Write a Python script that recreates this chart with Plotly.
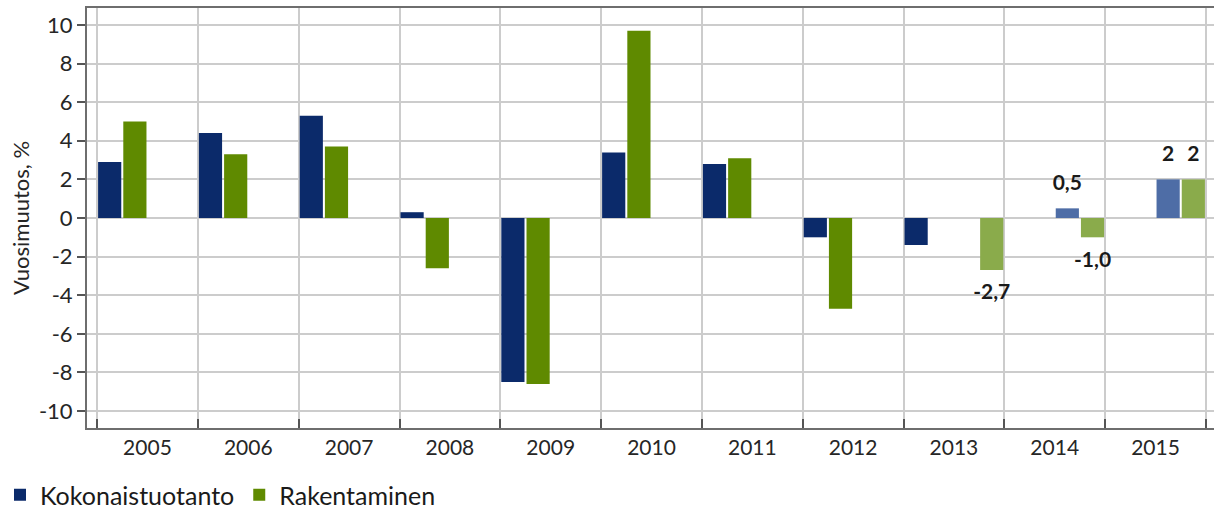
import plotly.graph_objects as go

years = ["2005", "2006", "2007", "2008", "2009", "2010", "2011", "2012", "2013", "2014", "2015"]

# Actual values
kok_actual = [2.9, 4.4, 5.3, 0.3, -8.5, 3.4, 2.8, -1.0, -1.4, None, None]
rak_actual = [5.0, 3.3, 3.7, -2.6, -8.6, 9.7, 3.1, -4.7, None, None, None]

# Forecast values
kok_forecast = [None, None, None, None, None, None, None, None, None, 0.5, 2.0]
rak_forecast = [None, None, None, None, None, None, None, None, -2.7, -1.0, 2.0]

# Data labels shown on the forecast bars
kok_forecast_labels = ["", "", "", "", "", "", "", "", "", "0,5", "2"]
rak_forecast_labels = ["", "", "", "", "", "", "", "", "-2,7", "-1,0", "2"]

series_names = ["Kokonaistuotanto", "Rakentaminen"]
y_ticks = [-10, -8, -6, -4, -2, 0, 2, 4, 6, 8, 10]
y_title = "Vuosimuutos, %"

NAVY = "#0b2a6a"
GREEN = "#5f8a00"
NAVY_F = "#4e6da6"
GREEN_F = "#8aab4b"
FONT = "Lato, Carlito, sans-serif"
TXT = "#262626"

fig = go.Figure()

bar_specs = [
    (kok_actual, NAVY, series_names[0], True, "g1"),
    (rak_actual, GREEN, series_names[1], True, "g2"),
    (kok_forecast, NAVY_F, series_names[0] + " ennuste", False, "g3"),
    (rak_forecast, GREEN_F, series_names[1] + " ennuste", False, "g4"),
]
for vals, col, name, show, grp in bar_specs:
    fig.add_trace(go.Bar(
        x=years, y=vals, name=name, marker=dict(color=col, line=dict(width=0)),
        showlegend=show, offsetgroup=grp, alignmentgroup="bars",
    ))

label_specs = [
    (kok_actual, [""] * len(years), "g1"),
    (rak_actual, [""] * len(years), "g2"),
    (kok_forecast, kok_forecast_labels, "g3"),
    (rak_forecast, rak_forecast_labels, "g4"),
]
for vals, labels, grp in label_specs:
    pos = ["top center" if (v is not None and v >= 0) else "bottom center" for v in vals]
    fig.add_trace(go.Scatter(
        x=years, y=vals, mode="markers+text", text=labels, textposition=pos,
        textfont=dict(family=FONT, size=21, color="#1a1a1a", weight="bold"),
        marker=dict(size=20, color="rgba(0,0,0,0)"),
        showlegend=False, hoverinfo="skip", offsetgroup=grp, alignmentgroup="labels",
        cliponaxis=False,
    ))

fig.update_layout(
    width=1214, height=518,
    margin=dict(l=87, r=0, t=8, b=90, autoexpand=False),
    paper_bgcolor="white", plot_bgcolor="white",
    barmode="group", bargap=0, bargroupgap=0.08,
    scattermode="group", scattergap=0,
    font=dict(family=FONT, size=20, color=TXT),
    legend=dict(
        orientation="h", xref="container", yref="container",
        x=0.0, xanchor="left", y=-0.01, yanchor="bottom",
        font=dict(family=FONT, size=25, color="#1a1a1a"),
        itemwidth=30, tracegroupgap=0,
    ),
    xaxis=dict(
        type="category", range=[-0.6, 10.58], tickson="boundaries",
        ticks="inside", ticklen=9, tickwidth=1.5, tickcolor="#555555",
        showgrid=True, gridcolor="#cccccc", gridwidth=1.5,
        showline=True, linecolor="#6e6e6e", linewidth=2, mirror=True,
        tickfont=dict(family=FONT, size=21, color=TXT),
        fixedrange=True, automargin=False,
    ),
    yaxis=dict(
        range=[-10.88, 10.88], tickmode="array", tickvals=y_ticks,
        ticktext=[str(t) for t in y_ticks],
        ticks="outside", ticklen=8, tickwidth=1.5, tickcolor="#555555",
        showgrid=True, gridcolor="#cccccc", gridwidth=1.5,
        zeroline=False,
        showline=True, linecolor="#6e6e6e", linewidth=2,
        tickfont=dict(family=FONT, size=22, color=TXT),
        title=dict(text=y_title, standoff=3, font=dict(family=FONT, size=22, color=TXT)),
        fixedrange=True, automargin=False,
    ),
)

fig.write_html("out.html")
